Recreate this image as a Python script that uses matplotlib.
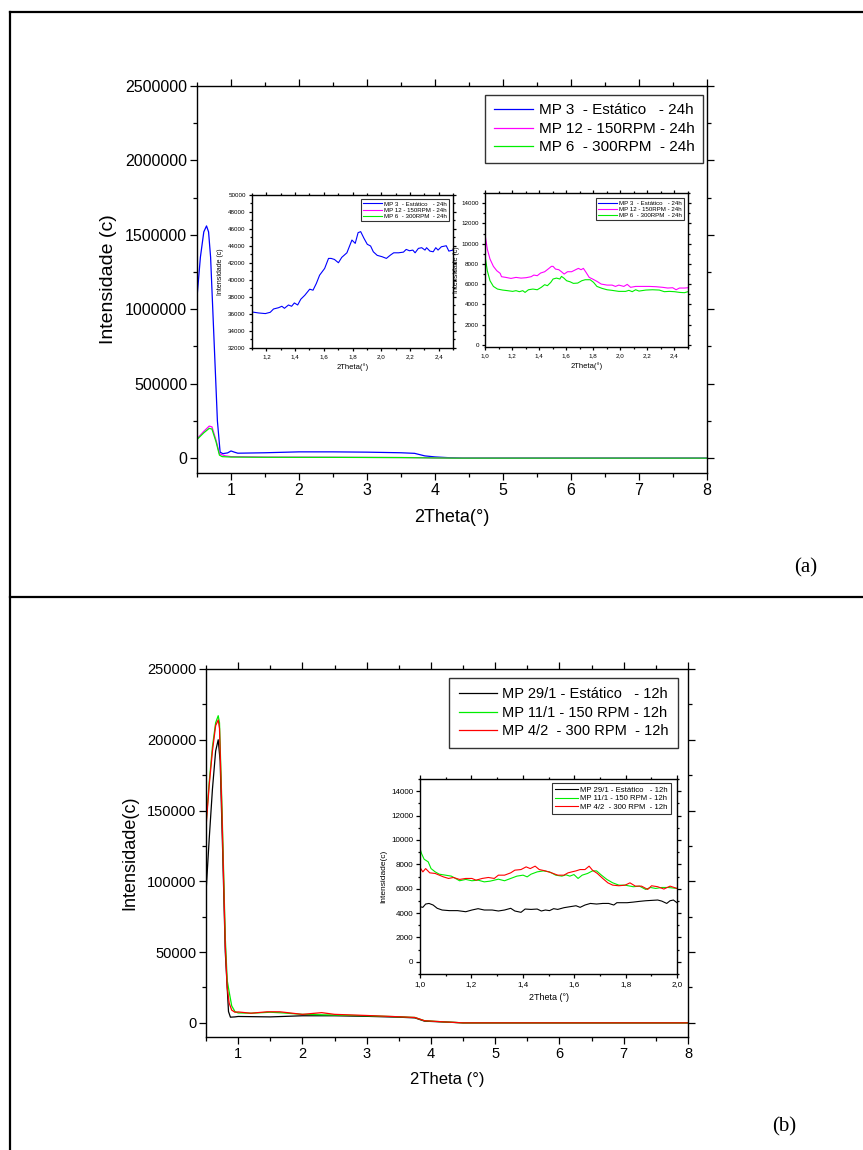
import matplotlib
matplotlib.use('Agg')
import matplotlib.pyplot as plt
from matplotlib.lines import Line2D
from matplotlib.ticker import MultipleLocator, FuncFormatter

plt.rcParams['font.family'] = ['Liberation Sans', 'DejaVu Sans']

# ---- panel (a): full range, 24h samples ----
a_labels = ['MP 3  - Estático   - 24h', 'MP 12 - 150RPM - 24h', 'MP 6  - 300RPM  - 24h']
a_colors = ['#0000ff', '#ff00ff', '#00ee00']

a_x_mp3 = [0.5, 0.55, 0.6, 0.64, 0.67, 0.7, 0.75, 0.8, 0.84, 0.88, 0.95, 1.0, 1.05, 1.1,
           1.5, 2.0, 2.5, 3.0, 3.5, 3.7, 3.85, 4.0, 4.2, 4.4, 8.0]
a_y_mp3 = [1080000, 1350000, 1520000, 1560000, 1520000, 1350000, 800000, 250000, 40000, 30000,
           35000, 48000, 40000, 33000, 36000, 42000, 42000, 40000, 36000, 32000, 15000, 8000,
           3000, 0, 0]
a_x_mp12 = [0.5, 0.6, 0.68, 0.72, 0.78, 0.83, 0.87, 0.92, 1.0, 1.5, 2.0, 2.5, 3.5, 3.8, 4.0, 4.3, 8.0]
a_y_mp12 = [130000, 180000, 215000, 210000, 120000, 30000, 22000, 15000, 10000, 7000, 6500,
            5700, 4000, 3000, 1000, 0, 0]
a_x_mp6 = [0.5, 0.6, 0.68, 0.72, 0.78, 0.83, 0.87, 1.0, 1.5, 2.0, 2.5, 3.5, 4.0, 4.3, 8.0]
a_y_mp6 = [125000, 170000, 200000, 195000, 110000, 20000, 10000, 7000, 5500, 5300, 5200,
           3500, 1000, 0, 0]

# zoomed region 1.0 - 2.5 (used by both insets of panel a)
z_x_mp3 = [1.10, 1.147, 1.193, 1.227, 1.25, 1.285, 1.308, 1.326, 1.354, 1.376, 1.395, 1.418,
           1.44, 1.468, 1.502, 1.525, 1.548, 1.571, 1.606, 1.633, 1.651, 1.674, 1.702, 1.725,
           1.761, 1.796, 1.819, 1.839, 1.857, 1.88, 1.903, 1.926, 1.945, 1.972, 2.006, 2.036,
           2.064, 2.087, 2.121, 2.155, 2.174, 2.197, 2.22, 2.236, 2.259, 2.282, 2.305, 2.316,
           2.339, 2.362, 2.38, 2.396, 2.419, 2.453, 2.471, 2.50]
z_y_mp3 = [36240, 36120, 36050, 36200, 36590, 36740, 36910, 36670, 37060, 36910, 37300, 37060,
           37740, 38210, 38920, 38800, 39590, 40570, 41360, 42540, 42540, 42420, 42030, 42660,
           43200, 44700, 44310, 45570, 45690, 44900, 44200, 44000, 43320, 42900, 42740, 42540,
           42930, 43200, 43200, 43280, 43600, 43440, 43520, 43200, 43720, 43800, 43520, 43800,
           43400, 43320, 43800, 43520, 43910, 44030, 43400, 43520]
z_x_mp12 = [1.0, 1.017, 1.037, 1.062, 1.087, 1.112, 1.122, 1.154, 1.192, 1.229, 1.266, 1.304,
            1.341, 1.361, 1.386, 1.411, 1.441, 1.466, 1.491, 1.503, 1.521, 1.545, 1.565, 1.585,
            1.61, 1.64, 1.67, 1.69, 1.71, 1.727, 1.747, 1.77, 1.795, 1.827, 1.859, 1.902, 1.939,
            1.964, 1.989, 2.026, 2.051, 2.076, 2.113, 2.163, 2.213, 2.263, 2.313, 2.35, 2.387,
            2.412, 2.437, 2.474, 2.50]
z_y_mp12 = [10940, 9460, 8480, 7760, 7330, 7070, 6740, 6670, 6570, 6670, 6600, 6640, 6740, 6900,
            6840, 7100, 7230, 7490, 7760, 7760, 7490, 7430, 7230, 7000, 7230, 7230, 7430, 7560,
            7430, 7560, 7160, 6670, 6510, 6280, 6010, 5910, 5910, 5780, 5910, 5780, 5980, 5690,
            5780, 5780, 5780, 5750, 5690, 5620, 5650, 5450, 5620, 5620, 5650]
z_x_mp6 = [1.0, 1.017, 1.037, 1.062, 1.092, 1.13, 1.167, 1.204, 1.229, 1.254, 1.279, 1.296,
           1.321, 1.354, 1.386, 1.416, 1.441, 1.461, 1.486, 1.503, 1.528, 1.553, 1.565, 1.583,
           1.603, 1.628, 1.653, 1.685, 1.715, 1.74, 1.777, 1.802, 1.827, 1.864, 1.902, 1.939,
           1.989, 2.039, 2.063, 2.088, 2.113, 2.138, 2.188, 2.238, 2.288, 2.325, 2.362, 2.40,
           2.437, 2.474, 2.50]
z_y_mp6 = [8810, 7330, 6340, 5780, 5520, 5420, 5360, 5290, 5360, 5260, 5360, 5190, 5450, 5520,
           5450, 5690, 5950, 5850, 6180, 6510, 6600, 6510, 6770, 6600, 6340, 6240, 6080, 6110,
           6340, 6440, 6440, 6180, 5780, 5590, 5450, 5390, 5290, 5290, 5390, 5260, 5450, 5320,
           5420, 5450, 5420, 5260, 5290, 5260, 5190, 5160, 5260]

# ---- panel (b): full range, 12h samples ----
b_labels = ['MP 29/1 - Estático   - 12h', 'MP 11/1 - 150 RPM - 12h', 'MP 4/2  - 300 RPM  - 12h']
b_colors = ['#000000', '#00ee00', '#ff0000']

b_x_mp29 = [0.5, 0.55, 0.6, 0.65, 0.69, 0.72, 0.76, 0.8, 0.85, 0.88, 0.95, 1.0, 1.5, 2.0, 2.5,
            3.0, 3.5, 3.75, 3.9, 4.2, 4.5, 8.0]
b_y_mp29 = [92000, 130000, 165000, 192000, 200000, 185000, 120000, 50000, 8000, 4000, 4200,
            4500, 4200, 5000, 5000, 4600, 4000, 3500, 1200, 600, 0, 0]
b_x_mp11 = [0.5, 0.55, 0.6, 0.65, 0.69, 0.71, 0.75, 0.8, 0.83, 0.86, 0.9, 0.95, 1.0, 1.2, 1.5,
            1.7, 2.0, 2.5, 3.0, 3.5, 3.75, 3.9, 4.2, 4.5, 8.0]
b_y_mp11 = [140000, 170000, 195000, 212000, 217000, 212000, 150000, 60000, 30000, 22000, 12000,
            8000, 7000, 6800, 7500, 7000, 6000, 5500, 5000, 4300, 3800, 1500, 700, 0, 0]
b_x_mp4 = [0.5, 0.55, 0.6, 0.65, 0.69, 0.71, 0.75, 0.8, 0.83, 0.86, 0.9, 0.95, 1.0, 1.2, 1.45,
           1.65, 2.0, 2.3, 2.5, 3.0, 3.5, 3.75, 3.9, 4.2, 4.5, 8.0]
b_y_mp4 = [138000, 168000, 192000, 210000, 214000, 208000, 145000, 55000, 25000, 14000, 9000,
           7500, 7700, 6800, 7800, 7800, 6000, 7200, 6000, 5200, 4300, 3800, 1500, 700, 0, 0]

# zoomed region 1.0 - 2.0 for panel b inset
zb_x_mp29 = [1.0, 1.011, 1.022, 1.035, 1.051, 1.067, 1.086, 1.114, 1.146, 1.178, 1.202, 1.226,
             1.25, 1.281, 1.305, 1.329, 1.353, 1.369, 1.393, 1.409, 1.432, 1.456, 1.472, 1.488,
             1.504, 1.52, 1.536, 1.56, 1.583, 1.607, 1.623, 1.642, 1.663, 1.687, 1.711, 1.734,
             1.754, 1.766, 1.782, 1.806, 1.83, 1.854, 1.878, 1.901, 1.925, 1.941, 1.96, 1.973,
             1.986, 2.0]
zb_y_mp29 = [4520, 4470, 4740, 4790, 4660, 4390, 4250, 4200, 4200, 4110, 4250, 4360, 4250, 4250,
             4170, 4250, 4390, 4170, 4060, 4330, 4300, 4330, 4170, 4250, 4200, 4360, 4300, 4440,
             4520, 4600, 4470, 4660, 4790, 4740, 4790, 4790, 4660, 4850, 4850, 4850, 4900, 4960,
             5010, 5040, 5070, 4980, 4790, 5010, 5070, 4850]
zb_x_mp11 = [1.0, 1.006, 1.016, 1.032, 1.043, 1.059, 1.075, 1.099, 1.122, 1.138, 1.154, 1.178,
             1.202, 1.226, 1.25, 1.273, 1.305, 1.329, 1.353, 1.377, 1.401, 1.417, 1.432, 1.456,
             1.48, 1.504, 1.528, 1.552, 1.568, 1.583, 1.599, 1.615, 1.631, 1.652, 1.671, 1.687,
             1.706, 1.727, 1.75, 1.774, 1.798, 1.83, 1.854, 1.878, 1.897, 1.917, 1.941, 1.965, 2.0]
zb_y_mp11 = [9290, 8880, 8420, 8200, 7650, 7380, 7190, 7110, 7030, 6840, 6650, 6760, 6650, 6700,
             6560, 6620, 6780, 6650, 6840, 7030, 7110, 6970, 7190, 7380, 7460, 7380, 7110, 7030,
             7140, 7030, 7160, 6840, 7110, 7250, 7460, 7460, 7110, 6760, 6480, 6290, 6290, 6160,
             6210, 5940, 6100, 6020, 6100, 6100, 6020]
zb_x_mp4 = [1.0, 1.011, 1.022, 1.038, 1.059, 1.075, 1.091, 1.111, 1.13, 1.154, 1.178, 1.202,
            1.218, 1.242, 1.266, 1.289, 1.305, 1.329, 1.353, 1.369, 1.393, 1.413, 1.429, 1.448,
            1.464, 1.488, 1.512, 1.536, 1.56, 1.576, 1.591, 1.607, 1.623, 1.642, 1.658, 1.671,
            1.69, 1.711, 1.731, 1.75, 1.774, 1.798, 1.817, 1.838, 1.862, 1.886, 1.901, 1.925,
            1.949, 1.973, 2.0]
zb_y_mp4 = [7740, 7380, 7650, 7300, 7250, 7110, 6970, 6840, 6920, 6760, 6840, 6840, 6700, 6840,
            6920, 6840, 7110, 7110, 7300, 7520, 7570, 7790, 7650, 7850, 7570, 7460, 7300, 7110,
            7110, 7300, 7380, 7460, 7570, 7570, 7850, 7520, 7250, 6840, 6480, 6290, 6240, 6290,
            6480, 6210, 6210, 5940, 6240, 6160, 5970, 6210, 6020]


def comma(v, pos):
    return ('%.1f' % v).replace('.', ',')


def plain(v, pos):
    return '%d' % round(v)


def style_axes(ax, fs, major_len=4, minor_len=2):
    for s in ax.spines.values():
        s.set_linewidth(1.0)
    ax.tick_params(which='both', direction='out', top=True, right=True, width=0.9,
                   labelsize=fs, pad=2)
    ax.tick_params(which='major', length=major_len)
    ax.tick_params(which='minor', length=minor_len)


def inset_legend(ax, handles, labels, fs, right, top):
    leg = ax.legend(handles, labels, loc='upper right', bbox_to_anchor=(right, top),
                    borderaxespad=0, fontsize=fs, frameon=True, fancybox=False,
                    handlelength=3.0, handletextpad=0.3, labelspacing=0.15, borderpad=0.4)
    leg.get_frame().set_edgecolor('black')
    leg.get_frame().set_linewidth(0.8)
    return leg


fig = plt.figure(figsize=(8.63, 11.5), dpi=100)

# outer frame lines
fig.add_artist(Line2D([10 / 863, 1.0], [1 - 12 / 1150, 1 - 12 / 1150], color='black', lw=1.6,
                      transform=fig.transFigure))
fig.add_artist(Line2D([10 / 863, 10 / 863], [1 - 12 / 1150, 0.0], color='black', lw=1.6,
                      transform=fig.transFigure))
fig.add_artist(Line2D([10 / 863, 1.0], [1 - 597 / 1150, 1 - 597 / 1150], color='black', lw=1.6,
                      transform=fig.transFigure))

# ---------------- panel (a) ----------------
ax = fig.add_axes([197 / 863, 1 - 473 / 1150, 510 / 863, 387 / 1150])
la = []
la += ax.plot(a_x_mp3, a_y_mp3, color=a_colors[0], lw=0.9)
la += ax.plot(a_x_mp12, a_y_mp12, color=a_colors[1], lw=0.9)
la += ax.plot(a_x_mp6, a_y_mp6, color=a_colors[2], lw=0.9)
ax.set_xlim(0.5, 8)
ax.set_ylim(-100000, 2500000)
ax.xaxis.set_major_locator(MultipleLocator(1))
ax.xaxis.set_minor_locator(MultipleLocator(0.5))
ax.yaxis.set_major_locator(MultipleLocator(500000))
ax.yaxis.set_minor_locator(MultipleLocator(250000))
ax.yaxis.set_major_formatter(FuncFormatter(plain))
style_axes(ax, 11.5, 5, 3)
ax.set_xlabel('2Theta(°)', fontsize=13, labelpad=8)
ax.set_ylabel('Intensidade (c)', fontsize=14, labelpad=6)
leg = ax.legend(la, a_labels, loc='upper right', bbox_to_anchor=(0.992, 0.977), borderaxespad=0,
                fontsize=11, fancybox=False, handlelength=2.6, handletextpad=0.35,
                labelspacing=0.3, borderpad=0.55)
leg.get_frame().set_edgecolor('black')
leg.get_frame().set_linewidth(1.0)

# inset a1 (zoom on MP 3)
ia = fig.add_axes([252 / 863, 1 - 348 / 1150, 201 / 863, 153 / 1150])
h1 = []
h1 += ia.plot(z_x_mp3, z_y_mp3, color=a_colors[0], lw=0.8)
h1 += ia.plot(z_x_mp12, z_y_mp12, color=a_colors[1], lw=0.8)
h1 += ia.plot(z_x_mp6, z_y_mp6, color=a_colors[2], lw=0.8)
ia.set_xlim(1.1, 2.5)
ia.set_ylim(32000, 50000)
ia.xaxis.set_major_locator(MultipleLocator(0.2))
ia.xaxis.set_minor_locator(MultipleLocator(0.1))
ia.xaxis.set_major_formatter(FuncFormatter(comma))
ia.yaxis.set_major_locator(MultipleLocator(2000))
ia.yaxis.set_minor_locator(MultipleLocator(1000))
style_axes(ia, 4.5, 2.5, 1.3)
ia.set_xlabel('2Theta(°)', fontsize=5.5, labelpad=3)
ia.set_ylabel('Intensidade (c)', fontsize=5, labelpad=3)
inset_legend(ia, h1, a_labels, 4.4, 0.98, 0.975)

# inset a2 (zoom on MP 12 / MP 6)
ib = fig.add_axes([485 / 863, 1 - 347 / 1150, 203 / 863, 154 / 1150])
h2 = []
h2 += ib.plot(z_x_mp3, z_y_mp3, color=a_colors[0], lw=0.8)
h2 += ib.plot(z_x_mp12, z_y_mp12, color=a_colors[1], lw=0.8)
h2 += ib.plot(z_x_mp6, z_y_mp6, color=a_colors[2], lw=0.8)
ib.set_xlim(1.0, 2.5)
ib.set_ylim(-200, 15000)
ib.xaxis.set_major_locator(MultipleLocator(0.2))
ib.xaxis.set_minor_locator(MultipleLocator(0.1))
ib.xaxis.set_major_formatter(FuncFormatter(comma))
ib.yaxis.set_major_locator(MultipleLocator(2000))
ib.yaxis.set_minor_locator(MultipleLocator(1000))
style_axes(ib, 4.5, 2.5, 1.3)
ib.set_xlabel('2Theta(°)', fontsize=5.5, labelpad=3)
ib.set_ylabel('Intensidade (c)', fontsize=5, labelpad=1)
inset_legend(ib, h2, a_labels, 4.4, 0.98, 0.968)

fig.text(806 / 863, 1 - 568 / 1150, '(a)', family=['Liberation Serif', 'DejaVu Serif'],
         fontsize=15, ha='center', va='center')

# ---------------- panel (b) ----------------
bx = fig.add_axes([206 / 863, 1 - 1037 / 1150, 482 / 863, 368 / 1150])
lb = []
lb += bx.plot(b_x_mp29, b_y_mp29, color=b_colors[0], lw=0.9)
lb += bx.plot(b_x_mp11, b_y_mp11, color=b_colors[1], lw=0.9)
lb += bx.plot(b_x_mp4, b_y_mp4, color=b_colors[2], lw=0.9)
bx.set_xlim(0.5, 8)
bx.set_ylim(-10000, 250000)
bx.xaxis.set_major_locator(MultipleLocator(1))
bx.xaxis.set_minor_locator(MultipleLocator(0.5))
bx.yaxis.set_major_locator(MultipleLocator(50000))
bx.yaxis.set_minor_locator(MultipleLocator(25000))
bx.yaxis.set_major_formatter(FuncFormatter(plain))
style_axes(bx, 10.5, 5, 3)
bx.set_xlabel('2Theta (°)', fontsize=12, labelpad=8)
bx.set_ylabel('Intensidade(c)', fontsize=13, labelpad=6)
leg = bx.legend(lb, b_labels, loc='upper right', bbox_to_anchor=(0.979, 0.9755), borderaxespad=0,
                fontsize=10.5, fancybox=False, handlelength=2.6, handletextpad=0.35,
                labelspacing=0.3, borderpad=0.65)
leg.get_frame().set_edgecolor('black')
leg.get_frame().set_linewidth(1.0)

ic = fig.add_axes([420 / 863, 1 - 974 / 1150, 257 / 863, 195 / 1150])
h3 = []
h3 += ic.plot(zb_x_mp29, zb_y_mp29, color=b_colors[0], lw=0.8)
h3 += ic.plot(zb_x_mp11, zb_y_mp11, color=b_colors[1], lw=0.8)
h3 += ic.plot(zb_x_mp4, zb_y_mp4, color=b_colors[2], lw=0.8)
ic.set_xlim(1.0, 2.0)
ic.set_ylim(-1000, 15000)
ic.xaxis.set_major_locator(MultipleLocator(0.2))
ic.xaxis.set_minor_locator(MultipleLocator(0.1))
ic.xaxis.set_major_formatter(FuncFormatter(comma))
ic.yaxis.set_major_locator(MultipleLocator(2000))
ic.yaxis.set_minor_locator(MultipleLocator(1000))
style_axes(ic, 5.8, 3, 1.5)
ic.set_xlabel('2Theta (°)', fontsize=6.5, labelpad=4)
ic.set_ylabel('Intensidade(c)', fontsize=6, labelpad=3)
inset_legend(ic, h3, b_labels, 5.6, 0.977, 0.979)

fig.text(784 / 863, 1 - 1127 / 1150, '(b)', family=['Liberation Serif', 'DejaVu Serif'],
         fontsize=15, ha='center', va='center')

fig.savefig('out.png', dpi=100)
